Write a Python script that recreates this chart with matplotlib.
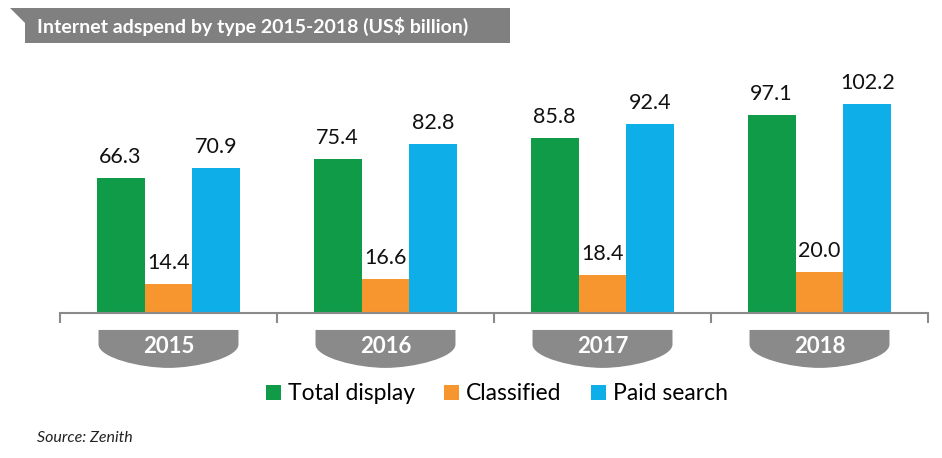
'''
Internet adspend by type, grouped bars with banner title
'''
import numpy as np
from matplotlib import pyplot as plt
from matplotlib.path import Path
from matplotlib.patches import PathPatch, Polygon
import matplotlib.transforms as mtransforms

plt.rcParams['font.family'] = ['Lato', 'DejaVu Sans']

years = ['2015', '2016', '2017', '2018']
series = ['Total display', 'Classified', 'Paid search']
total_display = [66.3, 75.4, 85.8, 97.1]
classified = [14.4, 16.6, 18.4, 20.0]
paid_search = [70.9, 82.8, 92.4, 102.2]
colors = ['#0f9b48', '#f7952f', '#0eaee9']
title = 'Internet adspend by type 2015-2018 (US$ billion)'
source = 'Source: Zenith'

GRAY = '#8a8a8a'

fig = plt.figure(figsize=(9.42, 4.58), dpi=100)
ax = fig.add_axes([60/942, 145/458, 868/942, 253/458])

x = np.arange(len(years))
width = 0.221
for i, (vals, col, name) in enumerate(zip([total_display, classified, paid_search], colors, series)):
    pos = x + (i - 1) * width
    ax.bar(pos, vals, width, color=col, label=name, zorder=2)
    for px, v in zip(pos, vals):
        ax.annotate(f'{v:.1f}', (px, v), xytext=(0, 8), textcoords='offset points',
                    ha='center', va='bottom', fontsize=15.5, color='#111111')

ax.set_xlim(-0.5, len(years) - 0.5)
ax.set_ylim(0, 124)
ax.set_xticks(np.arange(len(years) + 1) - 0.5)
ax.set_xticklabels([])
ax.tick_params(axis='x', direction='out', length=7, width=1.5, color=GRAY)
ax.set_yticks([])
for s in ['top', 'right', 'left']:
    ax.spines[s].set_visible(False)
ax.spines['bottom'].set_color(GRAY)
ax.spines['bottom'].set_linewidth(1.5)

# year badges under each group: flat top, rounded bottom
trans = mtransforms.blended_transform_factory(ax.transData, ax.transAxes)
bw = 0.645
ytop, ybot = -0.067, -0.217
ymid = ytop - 0.38 * (ytop - ybot)
for xc, yr in zip(x, years):
    x0, x1 = xc - bw/2, xc + bw/2
    verts = [(x0, ytop), (x1, ytop), (x1, ymid),
             (x1, ybot + 0.04), (x1 - 0.3*bw, ybot), (xc, ybot),
             (x0 + 0.3*bw, ybot), (x0, ybot + 0.04), (x0, ymid),
             (x0, ytop)]
    codes = [Path.MOVETO, Path.LINETO, Path.LINETO,
             Path.CURVE4, Path.CURVE4, Path.CURVE4,
             Path.CURVE4, Path.CURVE4, Path.CURVE4,
             Path.CLOSEPOLY]
    ax.add_patch(PathPatch(Path(verts, codes), facecolor=GRAY, edgecolor='none',
                           transform=trans, clip_on=False))
    ax.text(xc, (ytop + ybot) / 2 + 0.01, yr, transform=trans, ha='center', va='center',
            fontsize=16, fontweight='bold', color='white')

# title banner
W, H = 942, 458
banner = [(10, 8), (510, 8), (510, 43), (25, 43), (25, 23)]
fig.patches.append(Polygon([(px/W, 1 - py/H) for px, py in banner], closed=True,
                           facecolor='#808080', edgecolor='none', transform=fig.transFigure))
fig.text(37/W, 1 - 26/H, title, ha='left', va='center', fontsize=14,
         fontweight='bold', color='white')

ax.legend(loc='center', bbox_to_anchor=(497/W, 1 - 394/H), bbox_transform=fig.transFigure,
          ncol=3, frameon=False, fontsize=16.5, handlelength=0.65, handleheight=0.65,
          handletextpad=0.3, columnspacing=1.3)

fig.text(37/W, 1 - 438/H, source, ha='left', va='center', fontsize=11.5,
         fontstyle='italic', color='#222222')

plt.savefig('out.png', dpi=100)
plt.close(fig)
